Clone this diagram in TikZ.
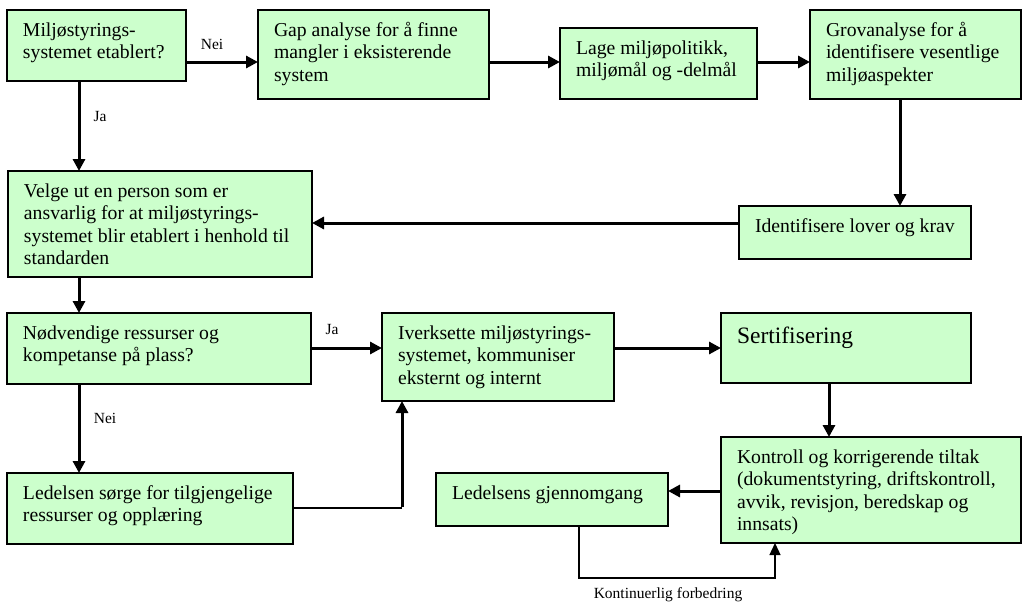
\documentclass[tikz,border=0pt]{standalone}
\usepackage{fontspec}
\setmainfont{Liberation Serif}
\usetikzlibrary{arrows.meta}
\definecolor{boxgreen}{HTML}{CCFFCC}
\newcommand{\boxtext}[3]{\begin{minipage}[c][#2][t]{#1}\vspace*{10.2pt}\raggedright\leftskip=16pt\strut #3\end{minipage}}
\newcommand{\bigboxtext}[3]{\begin{minipage}[c][#2][t]{#1}\vspace*{11.1pt}\raggedright\leftskip=16pt\fontsize{23.5pt}{27pt}\selectfont\strut #3\end{minipage}}
\tikzset{
  flowbox/.style={draw=black, line width=1.3pt, fill=boxgreen, inner sep=0pt, outer sep=0pt, anchor=north west,
    font=\fontsize{19.7pt}{22.6pt}\selectfont},
  arr/.style={line width=3pt, -{Triangle[length=12pt,width=12pt]}},
  thinarr/.style={line width=1.3pt, -{Triangle[length=12pt,width=11pt]}},
  thinline/.style={line width=1.3pt},
  lbl/.style={inner sep=0pt, anchor=base, font=\fontsize{15.5pt}{18pt}\selectfont}
}
\begin{document}
\begin{tikzpicture}[x=1pt,y=-1pt]
\useasboundingbox (0,0) rectangle (1023,603);
% boxes
\node[flowbox] (milj) at (7,10) {\boxtext{179pt}{71pt}{Miljøstyrings-\\systemet etablert?}};
\node[flowbox] (gap) at (258,10) {\boxtext{231pt}{89pt}{Gap analyse for å finne\\mangler i eksisterende\\system}};
\node[flowbox] (lage) at (560,28) {\boxtext{197pt}{71pt}{Lage miljøpolitikk,\\miljømål og -delmål}};
\node[flowbox] (grov) at (810,10) {\boxtext{211pt}{89pt}{Grovanalyse for å\\identifisere vesentlige\\miljøaspekter}};
\node[flowbox] (ident) at (739,206) {\boxtext{232pt}{53pt}{Identifisere lover og krav}};
\node[flowbox] (velge) at (8,171) {\boxtext{304pt}{106pt}{Velge ut en person som er\\ansvarlig for at miljøstyrings-\\systemet blir etablert i henhold til\\standarden}};
\node[flowbox] (nodv) at (7,313) {\boxtext{304pt}{71pt}{Nødvendige ressurser og\\kompetanse på plass?}};
\node[flowbox] (iverk) at (382,313) {\boxtext{232pt}{88pt}{Iverksette miljøstyrings-\\systemet, kommuniser\\eksternt og internt}};
\node[flowbox] (sert) at (721,313) {\bigboxtext{250pt}{70pt}{Sertifisering}};
\node[flowbox] (ledres) at (7,473) {\boxtext{286pt}{71pt}{Ledelsen sørge for tilgjengelige\\ressurser og opplæring}};
\node[flowbox] (kontr) at (721,437) {\boxtext{300pt}{106pt}{Kontroll og korrigerende tiltak\\(dokumentstyring, driftskontroll,\\avvik, revisjon, beredskap og\\innsats)}};
\node[flowbox] (ledgj) at (436,473) {\boxtext{232pt}{53pt}{Ledelsens gjennomgang}};
% helper coordinates
\coordinate (c1) at (402,508);
\coordinate (c2) at (579,578);
\coordinate (c3) at (775,578);
% connectors
\draw[arr] (milj.east |- 0,62) -- (gap.west |- 0,62);
\draw[arr] (gap.east |- 0,62) -- (lage.west |- 0,62);
\draw[arr] (lage.east |- 0,62) -- (grov.west |- 0,62);
\draw[arr] (900,0 |- grov.south) -- (900,0 |- ident.north);
\draw[arr] (ident.west |- 0,223) -- (velge.east |- 0,223);
\draw[arr] (79,0 |- milj.south) -- (79,0 |- velge.north);
\draw[arr] (79,0 |- velge.south) -- (79,0 |- nodv.north);
\draw[arr] (nodv.east |- 0,348) -- (iverk.west |- 0,348);
\draw[arr] (79,0 |- nodv.south) -- (79,0 |- ledres.north);
\draw[thinline] (ledres.east |- c1) -- (c1);
\draw[arr] ([yshift=0.65pt]c1) -- (c1 |- iverk.south);
\draw[arr] (iverk.east |- 0,348) -- (sert.west |- 0,348);
\draw[arr] (829,0 |- sert.south) -- (829,0 |- kontr.north);
\draw[arr] (kontr.west |- 0,491) -- (ledgj.east |- 0,491);
\draw[thinarr] (c2 |- ledgj.south) -- (c2) -- (c3) -- (c3 |- kontr.south);
% labels
\node[lbl] (nei1) at (212,49) {Nei};
\node[lbl] (ja1) at (100,121) {Ja};
\node[lbl] (ja2) at (332,334) {Ja};
\node[lbl] (nei2) at (105,423) {Nei};
\node[lbl] (kont) at (668,598.5) {Kontinuerlig forbedring};
\end{tikzpicture}
\end{document}
